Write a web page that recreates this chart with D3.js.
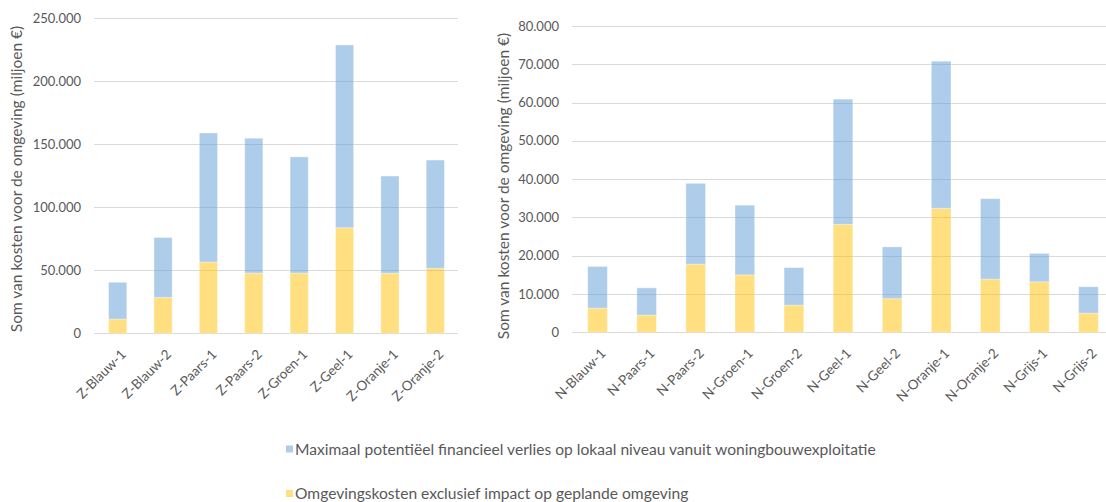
<!DOCTYPE html>
<html>
<head>
<meta charset="utf-8">
<script src="https://cdn.jsdelivr.net/npm/d3@7"></script>
<style>
  html, body { margin: 0; padding: 0; background: #fff; }
  svg { display: block; font-family: Lato, "Open Sans", sans-serif; }
  .tick-label { fill: #595959; font-size: 13px; }
  .cat-label { fill: #595959; font-size: 13.5px; }
  .axis-title { fill: #595959; font-size: 15.5px; }
  .legend-text { fill: #595959; font-size: 15.6px; }
</style>
</head>
<body>
<svg id="chart" width="1106" height="502"></svg>
<script>
// Zuid-varianten
const zuidCategories = ["Z-Blauw-1", "Z-Blauw-2", "Z-Paars-1", "Z-Paars-2", "Z-Groen-1", "Z-Geel-1", "Z-Oranje-1", "Z-Oranje-2"];
const zuidOmgevingskosten = [11300, 28500, 56600, 47800, 47800, 83800, 47700, 51600];
const zuidVerlies = [29200, 47500, 102400, 107000, 92200, 145000, 77100, 85900];
const zuidTicks = [0, 50000, 100000, 150000, 200000, 250000];

// Noord-varianten
const noordCategories = ["N-Blauw-1", "N-Paars-1", "N-Paars-2", "N-Groen-1", "N-Groen-2", "N-Geel-1", "N-Geel-2", "N-Oranje-1", "N-Oranje-2", "N-Grijs-1", "N-Grijs-2"];
const noordOmgevingskosten = [6300, 4500, 17800, 15000, 7100, 28200, 8800, 32400, 13900, 13200, 5000];
const noordVerlies = [10900, 7100, 21100, 18200, 9800, 32700, 13500, 38400, 21000, 7400, 6900];
const noordTicks = [0, 10000, 20000, 30000, 40000, 50000, 60000, 70000, 80000];

const seriesNames = [
  "Omgevingskosten exclusief impact op geplande omgeving",
  "Maximaal potentiëel financieel verlies op lokaal niveau vanuit woningbouwexploitatie"
];
const yTitle = "Som van kosten voor de omgeving (miljoen €)";

const seriesColors = { omgeving: "#FFC000", verlies: "#5B9BD5" };

const nl = d3.formatLocale({ decimal: ",", thousands: ".", grouping: [3], currency: ["€", ""] });
const fmt = nl.format(",");

const svg = d3.select("#chart");

function drawPanel(opts) {
  const { categories, omgeving, verlies, ticks, x0, x1, yBottom, yTop, titleX, titleY, clipRight } = opts;
  const rows = categories.map((c, i) => ({ cat: c, omgeving: omgeving[i], verlies: verlies[i] }));
  const stacked = d3.stack().keys(["omgeving", "verlies"])(rows);

  const x = d3.scaleBand().domain(categories).range([x0, x1]).paddingInner(0.6).paddingOuter(0.3);
  const y = d3.scaleLinear().domain([ticks[0], ticks[ticks.length - 1]]).range([yBottom, yTop]);

  const g = svg.append("g");

  // horizontale rasterlijnen
  g.append("g").selectAll("line").data(ticks).join("line")
    .attr("x1", x0 - 1).attr("x2", clipRight)
    .attr("y1", d => Math.round(y(d)) + 0.5).attr("y2", d => Math.round(y(d)) + 0.5)
    .attr("stroke", "#d9d9d9").attr("stroke-width", 1);

  // y-as labels
  g.append("g").selectAll("text").data(ticks).join("text")
    .attr("class", "tick-label")
    .attr("x", x0 - 14).attr("y", d => y(d)).attr("dy", "0.35em")
    .attr("text-anchor", "end")
    .text(d => fmt(d));

  // gestapelde kolommen
  g.append("g").selectAll("g").data(stacked).join("g")
    .attr("fill", d => seriesColors[d.key]).attr("fill-opacity", 0.5)
    .selectAll("rect").data(d => d).join("rect")
    .attr("x", d => x(d.data.cat))
    .attr("width", x.bandwidth())
    .attr("y", d => y(d[1]))
    .attr("height", d => y(d[0]) - y(d[1]))
    .attr("stroke", "#ffffff").attr("stroke-opacity", 0.35).attr("stroke-width", 1);

  // categorie labels
  g.append("g").selectAll("text").data(categories).join("text")
    .attr("class", "cat-label")
    .attr("text-anchor", "end")
    .attr("transform", d => `translate(${x(d) + x.bandwidth() / 2 + 9},${yBottom + 22}) rotate(-45)`)
    .text(d => d);

  // y-as titel
  g.append("text")
    .attr("class", "axis-title")
    .attr("text-anchor", "middle")
    .attr("transform", `translate(${titleX},${titleY}) rotate(-90)`)
    .text(yTitle);
}

drawPanel({
  categories: zuidCategories, omgeving: zuidOmgevingskosten, verlies: zuidVerlies, ticks: zuidTicks,
  x0: 95, x1: 458, yBottom: 333.3, yTop: 18.3, titleX: 22, titleY: 179, clipRight: 458
});

drawPanel({
  categories: noordCategories, omgeving: noordOmgevingskosten, verlies: noordVerlies, ticks: noordTicks,
  x0: 573, x1: 1113, yBottom: 332.3, yTop: 26, titleX: 509, titleY: 186, clipRight: 1106
});

// legenda
const legend = svg.append("g");
const legendItems = [
  { name: seriesNames[1], color: seriesColors.verlies, y: 454.5 },
  { name: seriesNames[0], color: seriesColors.omgeving, y: 499 }
];
legend.selectAll("rect").data(legendItems).join("rect")
  .attr("x", 286).attr("y", d => d.y - 9).attr("width", 7).attr("height", 7)
  .attr("fill", d => d.color).attr("fill-opacity", 0.5);
legend.selectAll("text").data(legendItems).join("text")
  .attr("class", "legend-text")
  .attr("x", 295).attr("y", d => d.y)
  .text(d => d.name);
</script>
</body>
</html>
